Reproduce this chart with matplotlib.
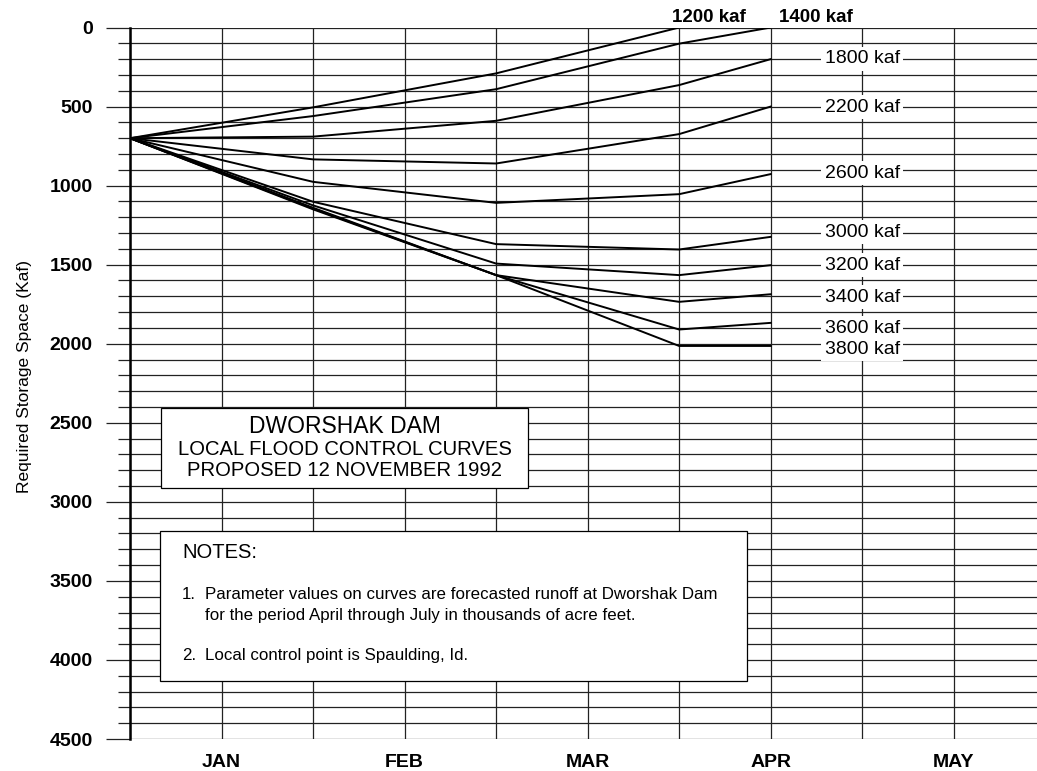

# Dworshak Dam local flood control curves (required storage space vs. date)

import matplotlib
matplotlib.use("Agg")
import matplotlib.pyplot as plt
from matplotlib.patches import Rectangle

plt.rcParams['font.family'] = ['Liberation Sans', 'DejaVu Sans']

# x positions are half-months counted from mid December (1 = JAN, 3 = FEB, ...)
month_labels = ['JAN', 'FEB', 'MAR', 'APR', 'MAY']
month_pos = [1, 3, 5, 7, 9]

# forecast runoff (kaf) -> curve knots (x, required storage space)
runoff = [1200, 1400, 1800, 2200, 2600, 3000, 3200, 3400, 3600, 3800]
curve_x = {
    1200: [0, 2, 4, 6],
    1400: [0, 2, 4, 6, 7],
    1800: [0, 2, 4, 6, 7],
    2200: [0, 2, 4, 6, 7],
    2600: [0, 2, 4, 6, 7],
    3000: [0, 2, 4, 6, 7],
    3200: [0, 2, 4, 6, 7],
    3400: [0, 2, 4, 6, 7],
    3600: [0, 2, 4, 6, 7],
    3800: [0, 2, 4, 6, 7],
}
curve_y = {
    1200: [700, 505, 290, 0],
    1400: [700, 560, 390, 102, 0],
    1800: [700, 690, 590, 364, 200],
    2200: [700, 834, 860, 674, 500],
    2600: [700, 976, 1109, 1054, 927],
    3000: [700, 1102, 1370, 1404, 1324],
    3200: [700, 1125, 1493, 1566, 1503],
    3400: [700, 1140, 1566, 1735, 1687],
    3600: [700, 1145, 1566, 1910, 1868],
    3800: [700, 1150, 1566, 2014, 2014],
}

# where the curve names sit
top_labels = {1200: (6.33, -66), 1400: (7.49, -66)}
side_label_y = {1800: 199, 2200: 503, 2600: 921, 3000: 1294,
                3200: 1503, 3400: 1706, 3600: 1902, 3800: 2035}

fig = plt.figure(figsize=(10.37, 7.71), dpi=100)
ax = fig.add_axes([0.1254, 0.0415, 0.8746, 0.9228])

for r in runoff:
    ax.plot(curve_x[r], curve_y[r], color='black', lw=1.4, zorder=3,
            solid_joinstyle='miter')

ax.set_xlim(0, 9.91)
ax.set_ylim(4500, 0)

ax.set_xticks(month_pos)
ax.set_xticklabels(month_labels, fontsize=14, fontweight='bold')
ax.set_xticks([0, 2, 4, 6, 8], minor=True)
ax.tick_params(axis='x', which='both', length=0, pad=11)

ax.set_yticks(range(0, 4501, 500))
ax.set_yticklabels([str(v) for v in range(0, 4501, 500)],
                   fontsize=14, fontweight='bold')
ax.set_yticks(range(0, 4501, 100), minor=True)
ax.tick_params(axis='y', which='major', length=17, width=0.9, pad=10,
               color='#222222')
ax.tick_params(axis='y', which='minor', length=8.5, width=0.9,
               color='#222222')

ax.grid(True, which='both', color='#222222', lw=0.9, zorder=1)
ax.set_axisbelow(True)

for s in ['top', 'right', 'bottom']:
    ax.spines[s].set_visible(False)
ax.spines['left'].set_linewidth(1.8)
ax.spines['left'].set_zorder(4)

ax.set_ylabel('Required Storage Space (Kaf)', fontsize=12.5)
ax.yaxis.set_label_coords(-0.108, 0.51)

for r, (tx, ty) in top_labels.items():
    ax.text(tx, ty, f'{r} kaf', fontsize=13.5, fontweight='bold',
            ha='center', va='center', clip_on=False)

for r, ty in side_label_y.items():
    ax.text(8.0, ty, f'{r} kaf', fontsize=14, ha='center', va='center',
            zorder=5,
            bbox=dict(facecolor='white', edgecolor='none', pad=2.5))

# title box
fig.add_artist(Rectangle((0.1553, 0.3671), 0.3539, 0.1037,
                         transform=fig.transFigure, facecolor='white',
                         edgecolor='black', lw=0.9, zorder=5))
fig.text(0.3322, 0.4462, 'DWORSHAK DAM', fontsize=16.5, ha='center',
         va='center', zorder=6)
fig.text(0.3322, 0.4176, 'LOCAL FLOOD CONTROL CURVES', fontsize=14.6,
         ha='center', va='center', zorder=6)
fig.text(0.3322, 0.3904, 'PROPOSED 12 NOVEMBER 1992', fontsize=14.6,
         ha='center', va='center', zorder=6)

# notes box
fig.add_artist(Rectangle((0.1543, 0.1167), 0.5660, 0.1946,
                         transform=fig.transFigure, facecolor='white',
                         edgecolor='black', lw=0.9, zorder=5))
fig.text(0.1755, 0.284, 'NOTES:', fontsize=14.5, va='center', zorder=6)
fig.text(0.1755, 0.2283, '1.', fontsize=12.2, va='center', zorder=6)
fig.text(0.1977, 0.2283,
         'Parameter values on curves are forecasted runoff at Dworshak Dam',
         fontsize=12.2, va='center', zorder=6)
fig.text(0.1977, 0.2023,
         'for the period April through July in thousands of acre feet.',
         fontsize=12.2, va='center', zorder=6)
fig.text(0.1755, 0.1492, '2.', fontsize=12.2, va='center', zorder=6)
fig.text(0.1977, 0.1492, 'Local control point is Spaulding, Id.',
         fontsize=12.2, va='center', zorder=6)

fig.savefig('out.png', dpi=100)
